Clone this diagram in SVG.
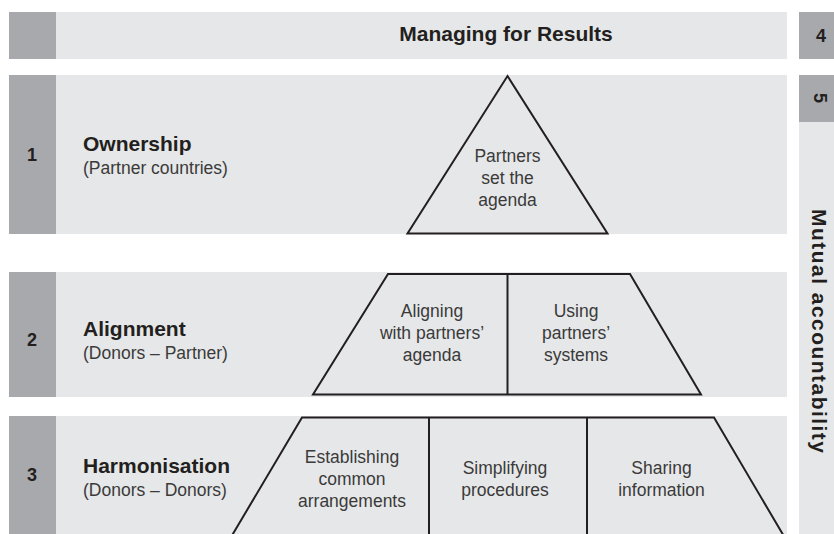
<svg xmlns="http://www.w3.org/2000/svg" width="834" height="534" viewBox="0 0 834 534">
  <style>
    .band { fill: #e6e7e8; }
    .tab { fill: #a7a9ac; }
    .shape { fill: #e6e7e8; stroke: #231f20; stroke-width: 2; stroke-linejoin: miter; }
    .div { stroke: #231f20; stroke-width: 2; }
    .num { font-family: "Liberation Sans", Arial, sans-serif; font-weight: bold; font-size: 18px; fill: #231f20; }
    .title { font-family: "Liberation Sans", Arial, sans-serif; font-weight: bold; font-size: 21px; fill: #231f20; }
    .sub { font-family: "Liberation Sans", Arial, sans-serif; font-size: 17.5px; fill: #3a3a3a; }
    .lbl { font-family: "Liberation Sans", Arial, sans-serif; font-size: 17.5px; fill: #3a3a3a; text-anchor: middle; }
  </style>
  <rect width="834" height="534" fill="#ffffff"/>

  <g id="managing-for-results">
    <rect class="band" x="9" y="12" width="778" height="47"/>
    <rect class="tab" x="9" y="12" width="47" height="47"/>
    <text class="title" x="506" y="41" text-anchor="middle">Managing for Results</text>
  </g>

  <g id="tab-4">
    <rect class="tab" x="799" y="12" width="35" height="47"/>
    <text class="num" x="821" y="42" text-anchor="middle">4</text>
  </g>

  <g id="mutual-accountability">
    <rect class="tab" x="799" y="75" width="35" height="47"/>
    <rect class="band" x="799" y="122" width="35" height="412"/>
    <text class="num" transform="translate(814,98) rotate(90)" text-anchor="middle">5</text>
    <text class="title" font-size="20" transform="translate(812,331) rotate(90)" text-anchor="middle" textLength="244" lengthAdjust="spacing">Mutual accountability</text>
  </g>

  <g id="ownership">
    <rect class="band" x="9" y="75" width="778" height="159"/>
    <rect class="tab" x="9" y="75" width="47" height="159"/>
    <text class="num" x="32" y="161" text-anchor="middle">1</text>
    <text class="title" x="83" y="151">Ownership</text>
    <text class="sub" x="83" y="174">(Partner countries)</text>
  </g>

  <g id="partners-set-agenda">
    <polygon class="shape" stroke-width="1.7" points="507.5,76 607.5,233.5 407.5,233.5"/>
    <text class="lbl" x="507.5" y="162">Partners</text>
    <text class="lbl" x="507.5" y="184">set the</text>
    <text class="lbl" x="507.5" y="206">agenda</text>
  </g>

  <g id="alignment">
    <rect class="band" x="9" y="272" width="778" height="125"/>
    <rect class="tab" x="9" y="272" width="47" height="125"/>
    <text class="num" x="32" y="346" text-anchor="middle">2</text>
    <text class="title" x="83" y="336">Alignment</text>
    <text class="sub" x="83" y="359">(Donors – Partner)</text>
  </g>

  <g id="alignment-pyramid">
    <polygon class="shape" points="388,274 630,274 701,394.5 313,394.5"/>
    <line class="div" x1="507.5" y1="274" x2="507.5" y2="394.5"/>
  </g>
  <g id="aligning-with-agenda">
    <text class="lbl" x="432" y="317">Aligning</text>
    <text class="lbl" x="432" y="339">with partners’</text>
    <text class="lbl" x="432" y="361">agenda</text>
  </g>
  <g id="using-systems">
    <text class="lbl" x="576" y="317">Using</text>
    <text class="lbl" x="576" y="339">partners’</text>
    <text class="lbl" x="576" y="361">systems</text>
  </g>

  <g id="harmonisation">
    <rect class="band" x="9" y="416" width="778" height="118"/>
    <rect class="tab" x="9" y="416" width="47" height="118"/>
    <text class="num" x="32" y="481" text-anchor="middle">3</text>
    <text class="title" x="83" y="473">Harmonisation</text>
    <text class="sub" x="83" y="496">(Donors – Donors)</text>
  </g>

  <g id="harmonisation-pyramid">
    <polygon class="shape" points="302,417.5 714,417.5 785,538 230.5,538"/>
    <line class="div" x1="429" y1="417.5" x2="429" y2="536"/>
    <line class="div" x1="587" y1="417.5" x2="587" y2="536"/>
  </g>
  <g id="establishing-arrangements">
    <text class="lbl" x="352" y="463">Establishing</text>
    <text class="lbl" x="352" y="485">common</text>
    <text class="lbl" x="352" y="507">arrangements</text>
  </g>
  <g id="simplifying-procedures">
    <text class="lbl" x="505" y="474">Simplifying</text>
    <text class="lbl" x="505" y="496">procedures</text>
  </g>
  <g id="sharing-information">
    <text class="lbl" x="661.5" y="474">Sharing</text>
    <text class="lbl" x="661.5" y="496">information</text>
  </g>

  <g id="connectors"></g>
</svg>
